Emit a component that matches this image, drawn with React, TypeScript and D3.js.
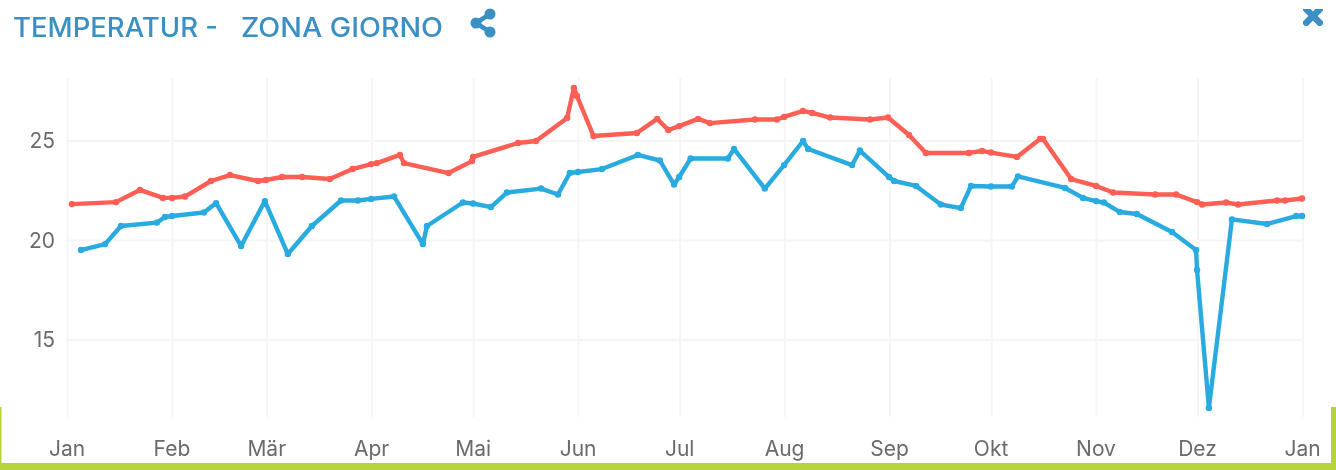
import React from "react";
import * as d3 from "d3";

const titleParts = ["TEMPERATUR -", "ZONA GIORNO"];
const monthLabels = ["Jan", "Feb", "Mär", "Apr", "Mai", "Jun", "Jul", "Aug", "Sep", "Okt", "Nov", "Dez", "Jan"];
const yTicks = [15, 20, 25];

// Day offsets from 1 January and temperatures
const redDays = [1.3,14.3,21.4,28.2,30.9,34.7,42.4,48,56.3,58.6,63.4,69.3,77.5,84.2,89.7,91.4,98.2,99.4,112.6,119.5,119.8,133.1,138.4,147.6,149.6,150.5,155.4,168.2,174.2,177.5,180.7,186.3,189.8,203.1,209.6,211.7,217.3,220,225.3,237.1,242.4,248.6,253.6,266.3,270.2,272.8,280.5,287.3,288.2,296.5,303.9,308.9,321.3,327.5,333.7,335.2,342.3,345.8,357.3,359.7,364.7];
const redValues = [21.83,21.93,22.54,22.14,22.14,22.21,22.99,23.29,22.99,23.04,23.19,23.19,23.09,23.59,23.84,23.89,24.3,23.89,23.39,23.99,24.2,24.9,25,26.16,27.66,27.26,25.25,25.4,26.11,25.55,25.75,26.11,25.9,26.08,26.08,26.21,26.51,26.41,26.18,26.08,26.18,25.3,24.4,24.4,24.5,24.42,24.2,25.1,25.1,23.09,22.74,22.41,22.31,22.31,21.93,21.81,21.91,21.81,22.01,22.01,22.11];
const blueDays = [4,11.1,15.8,26.4,28.8,30.9,40.3,43.9,51.3,58.3,65.1,72.2,80.8,85.8,89.7,96.5,105,106.2,116.8,119.8,125.1,129.8,139.9,144.9,148.4,150.8,157.9,168.5,175,179.2,180.7,184.1,195.1,196.9,206,211.7,217.3,218.8,231.8,234.1,242.7,244.2,250.7,258,263.9,266.9,272.8,279,280.8,294.7,300,303.9,306.2,310.9,315.9,326.3,333.4,333.7,337.2,344,354.4,363,364.7];
const blueValues = [19.52,19.82,20.73,20.9,21.18,21.23,21.41,21.88,19.72,21.98,19.32,20.73,22.01,22.01,22.09,22.21,19.82,20.73,21.91,21.86,21.68,22.41,22.61,22.31,23.39,23.44,23.59,24.3,24.02,22.81,23.19,24.12,24.12,24.6,22.61,23.79,25,24.6,23.79,24.52,23.19,22.99,22.74,21.81,21.63,22.74,22.71,22.71,23.22,22.64,22.14,21.98,21.91,21.43,21.33,20.43,19.52,18.52,11.58,21.06,20.83,21.23,21.23];

const YEAR = 2019;
const DAY_MS = 86400000;
const dateOf = (day: number) => new Date(Date.UTC(YEAR, 0, 1) + day * DAY_MS);
const monthTicks = monthLabels.map((_, i) => new Date(Date.UTC(YEAR, i, 1)));

const x = d3.scaleUtc().domain([new Date(Date.UTC(YEAR, 0, 1)), new Date(Date.UTC(YEAR + 1, 0, 1))]).range([67.5, 1303]);
const y = d3.scaleLinear().domain([15, 25]).range([340, 141]);
const PLOT_TOP = 78;
const PLOT_BOTTOM = 417;

const line = d3.line<[number, number]>().x((d) => x(dateOf(d[0]))).y((d) => y(d[1]));
const RED = "#fd5e54";
const BLUE = "#29abe0";
const GREEN = "#b5d43b";
const TITLE = "#3a8fc3";
const TICK = "#6b6b6b";
const GRID = "#f5f5f6";
const FONT = "Inter, Lato, sans-serif";

function Series({ days, values, color }: { days: number[]; values: number[]; color: string }) {
  const pts = days.map((d, i) => [d, values[i]] as [number, number]);
  return (
    <g>
      <path d={line(pts) ?? ""} fill="none" stroke={color} strokeWidth={4.4} strokeLinejoin="round" />
      {pts.map((p, i) => (
        <circle key={i} cx={x(dateOf(p[0]))} cy={y(p[1])} r={3.2} fill={color} />
      ))}
    </g>
  );
}

export default function App() {
  return (
    <svg
      width={1336}
      height={470}
      style={{ position: "absolute", left: 0, top: 0, display: "block", background: "#fff" }}
    >
      <defs>
        <filter id="soft" x="-2%" y="-2%" width="104%" height="104%">
          <feGaussianBlur stdDeviation="0.45" />
        </filter>
      </defs>
      <g stroke={GRID} strokeWidth={2}>
        {monthTicks.map((t, i) => (
          <line key={i} x1={x(t)} x2={x(t)} y1={PLOT_TOP} y2={PLOT_BOTTOM} />
        ))}
        {yTicks.map((t) => (
          <line key={t} x1={67.5} x2={1303} y1={y(t)} y2={y(t)} />
        ))}
      </g>
      <g filter="url(#soft)">
        <Series days={redDays} values={redValues} color={RED} />
        <Series days={blueDays} values={blueValues} color={BLUE} />
      </g>
      <g fill={TICK} fontFamily={FONT} fontSize={21} filter="url(#soft)">
        {yTicks.map((t) => (
          <text key={t} x={55} y={y(t)} dy="0.35em" textAnchor="end">{t}</text>
        ))}
        {monthTicks.map((t, i) => (
          <text key={i} x={x(t) - 0.5} y={456} textAnchor="middle">{monthLabels[i]}</text>
        ))}
      </g>
      <g fill={TITLE} fontFamily={FONT} fontSize={27} fontWeight={500} filter="url(#soft)">
        <text x={13} y={37} textLength={205} lengthAdjust="spacingAndGlyphs">{titleParts[0]}</text>
        <text x={241} y={37} textLength={202} lengthAdjust="spacingAndGlyphs">{titleParts[1]}</text>
      </g>
      {/* share icon */}
      <g fill={TITLE} stroke={TITLE} filter="url(#soft)">
        <path d="M490 14 L476 23 L490 32" fill="none" strokeWidth={4.5} />
        <circle cx={490} cy={14} r={5.5} stroke="none" />
        <circle cx={476} cy={23} r={5.5} stroke="none" />
        <circle cx={490} cy={32} r={5.5} stroke="none" />
      </g>
      {/* close icon, cut off by the top of its box */}
      <g filter="url(#soft)">
        <clipPath id="closeClip"><rect x={1300} y={9} width={26} height={17} /></clipPath>
        <path d="M1304 7 L1322 25 M1322 7 L1304 25" stroke={TITLE} strokeWidth={6.5} clipPath="url(#closeClip)" />
      </g>
      {/* green frame */}
      <g fill={GREEN}>
        <rect x={0} y={407} width={1.5} height={63} />
        <rect x={1331} y={407} width={5} height={63} />
        <rect x={0} y={463} width={1336} height={7} />
      </g>
    </svg>
  );
}
